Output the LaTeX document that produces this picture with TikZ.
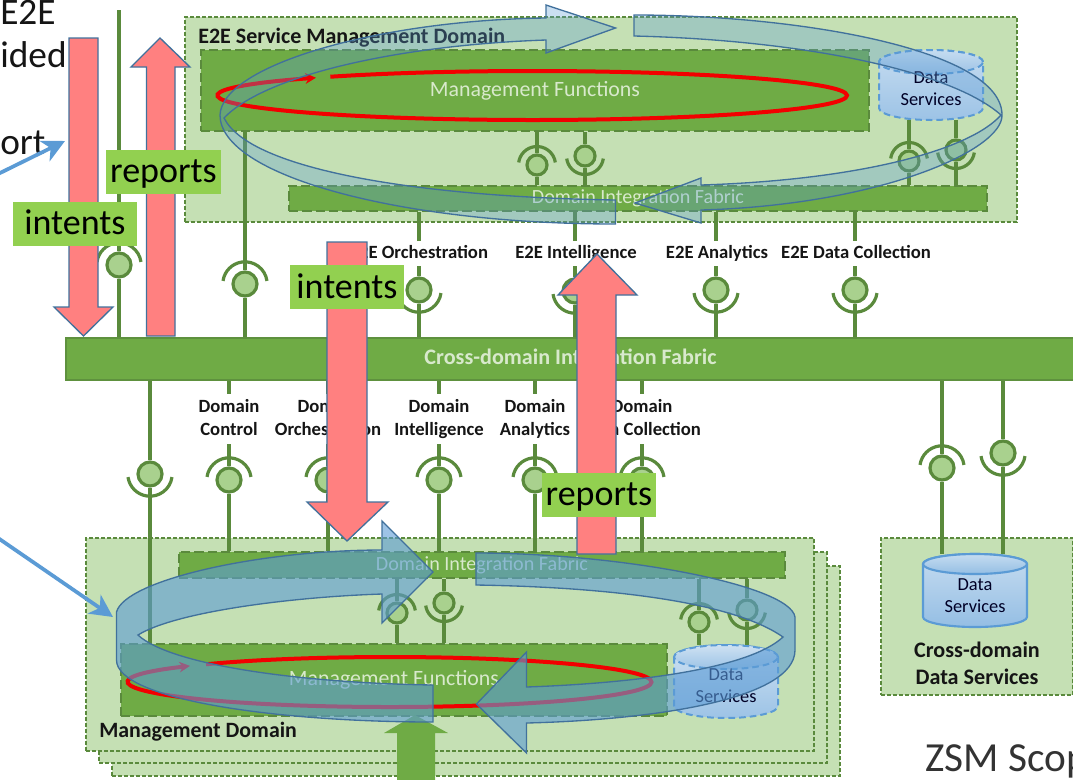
\documentclass[tikz,border=0pt]{standalone}
\usepackage{fontspec}
\setmainfont{Carlito}
\usetikzlibrary{arrows.meta}
\definecolor{dom}{HTML}{C5E0B4}
\definecolor{fab}{HTML}{6FAB45}
\definecolor{lnk}{HTML}{5A8A3C}
\definecolor{sockf}{HTML}{A9D18E}
\definecolor{lab}{HTML}{92D050}
\definecolor{pink}{HTML}{FF8080}
\definecolor{edgeb}{HTML}{41719C}
\definecolor{blu}{HTML}{5B9BD5}
\definecolor{pale}{HTML}{D8E9CC}
\definecolor{inkt}{HTML}{151515}
\tikzset{
  x=.75pt,y=.75pt,
  dombox/.style={rectangle,draw=lnk,line width=.8pt,dash pattern=on 3pt off 1.5pt,fill=dom,inner sep=0pt},
  fabricbox/.style={rectangle,draw=lnk,line width=1.5pt,dash pattern=on 7pt off 3pt,fill=fab,inner sep=0pt,text=pale},
  barbox/.style={rectangle,draw=lnk!80!fab,line width=.8pt,fill=fab,inner sep=0pt,text=pale},
  linkline/.style={draw=lnk,line width=2.4pt},
  sockbox/.style={circle,draw=lnk,line width=2.4pt,fill=sockf,inner sep=0pt},
  svc/.style={font=\fontsize{14}{17.2}\selectfont\bfseries,text=inkt,align=center,inner sep=0pt},
  dtext/.style={font=\fontsize{13.8}{16.5}\selectfont,align=center,inner sep=0pt,text=black!85!blue},
  tagbox/.style={rectangle,fill=lab,inner sep=0pt,text=black,font=\fontsize{27}{27}\selectfont,text height=25pt,text depth=8pt},
  bigarrow/.style={fill=pink,draw=edgeb,line width=1pt,line join=miter},
  bandT/.style={fill=blu,fill opacity=.32,draw=edgeb,line width=1pt,draw opacity=1},
  bandL/.style={fill=blu,fill opacity=.6,draw=edgeb,line width=1pt,draw opacity=1},
  cuttext/.style={anchor=base west,inner sep=0pt,font=\fontsize{28}{28}\selectfont,text=inkt},
  pointer/.style={draw=blu,line width=2.8pt,-{Stealth[length=17pt,width=17pt,inset=5pt]}},
  redloop/.style={draw=red!95!black,line width=3pt,-{Stealth[length=8pt,width=8pt]}},
}
\newcommand\sockU[4]{\node[sockbox,minimum size=2*#4*.75pt] (#1) at (#2,-#3) {};
  \draw[linkline] (#1.center) ++(8:#4*1.85) arc[start angle=8,end angle=172,radius=#4*1.85];}
\newcommand\sockD[4]{\node[sockbox,minimum size=2*#4*.75pt] (#1) at (#2,-#3) {};
  \draw[linkline] (#1.center) ++(-8:#4*1.85) arc[start angle=-8,end angle=-172,radius=#4*1.85];}
\newcommand\cylshape[7]{% x1 y1 x2 y2 e style topfill
  \path[#6] (#1,-#2-#5) -- (#1,-#4+#5) arc[start angle=180,end angle=360,x radius=(#3-#1)/2,y radius=#5]
     -- (#3,-#2-#5) arc[start angle=0,end angle=180,x radius=(#3-#1)/2,y radius=#5] -- cycle;
  \path[#6,fill=#7] ({(#1+#3)/2},-#2-#5) ellipse[x radius=(#3-#1)/2,y radius=#5];}
\newcommand\twoline[2]{\strut #1\\\strut #2}
\begin{document}
\begin{tikzpicture}
\useasboundingbox (0,0) rectangle (1073,-779);
\clip (0,0) rectangle (1073,-779);

% domains
\node[dombox,minimum width=832*.75pt,minimum height=205*.75pt] (e2edom) at (601,-119.5) {};
\node[dombox,minimum width=728*.75pt,minimum height=210*.75pt] (md3) at (476,-671) {};
\node[dombox,minimum width=728*.75pt,minimum height=211*.75pt] (md2) at (463,-657.5) {};
\node[dombox,minimum width=728*.75pt,minimum height=213*.75pt] (md1) at (450,-644.5) {};
\node[dombox,minimum width=192*.75pt,minimum height=157*.75pt] (cdom) at (977,-616.5) {};

% fabrics and functions
\node[barbox,minimum width=1009*.75pt,minimum height=42*.75pt,font=\fontsize{16.6}{15}\selectfont\bfseries] (cross) at (570.5,-359) {Cross-domain Integration Fabric};
\node[fabricbox,minimum width=668*.75pt,minimum height=81*.75pt,font=\fontsize{16.4}{16}\selectfont] (mgmtT) at (535,-90.5) {Management Functions};
\node[fabricbox,minimum width=698*.75pt,minimum height=25*.75pt,font=\fontsize{15.1}{14}\selectfont] (fabT) at (638,-198) {Domain Integration Fabric};
\node[fabricbox,minimum width=606*.75pt,minimum height=26*.75pt,font=\fontsize{15.1}{14}\selectfont] (fabL) at (482,-565) {Domain Integration Fabric};
\node[fabricbox,minimum width=546*.75pt,minimum height=72*.75pt,font=\fontsize{16.4}{16}\selectfont] (mgmtL) at (394,-680) {Management Functions};

% data services
\cylshape{879}{50}{983}{120}{12}{draw=blu,line width=1.5pt,dash pattern=on 5pt off 3pt,top color=blu!35!white,bottom color=blu!60!white}{blu!25!white}
\node[minimum width=104*.75pt,minimum height=70*.75pt,inner sep=0pt] (dsT) at (931,-85) {};
\node[dtext] (dsTt) at (931,-88.5) {Data\\Services};
\cylshape{674}{645}{778}{718}{12}{draw=blu,line width=1.5pt,dash pattern=on 5pt off 3pt,top color=blu!30!white,bottom color=blu!60!white}{blu!22!white}
\node[minimum width=104*.75pt,minimum height=73*.75pt,inner sep=0pt] (dsL) at (726,-681.5) {};
\node[dtext] (dsLt) at (726,-685.5) {Data\\Services};
\cylshape{923}{554}{1027}{627}{10}{draw=blu,line width=1.6pt,top color=blu!35!white,bottom color=blu!65!white}{blu!18!white}
\node[minimum width=104*.75pt,minimum height=73*.75pt,inner sep=0pt] (dsC) at (975,-590.5) {};
\node[dtext] (dsCt) at (975,-595.5) {Data\\Services};

% titles
\node[anchor=base west,inner sep=0pt,font=\fontsize{16.5}{15}\selectfont\bfseries,text=inkt] (ttlE) at (198,-43) {E2E Service Management Domain};
\node[anchor=base west,inner sep=0pt,font=\fontsize{16.4}{15}\selectfont\bfseries,text=inkt] (ttlM) at (99,-737) {Management Domain};
\node[align=center,inner sep=0pt,font=\fontsize{16.6}{20}\selectfont\bfseries,text=inkt] (ttlC) at (977,-663) {Cross-domain\\Data Services};

% service labels
\node[svc,minimum height=24*.75pt] (lE1) at (419,-253.5) {\strut E2E Orchestration};
\node[svc,minimum height=24*.75pt] (lE2) at (576,-253.5) {\strut E2E Intelligence};
\node[svc,minimum height=24*.75pt] (lE3) at (717,-253.5) {\strut E2E Analytics};
\node[svc,minimum height=24*.75pt] (lE4) at (856,-253.5) {\strut E2E Data Collection};
\node[svc,minimum height=50*.75pt] (lD1) at (229,-419) {\twoline{Domain}{Control}};
\node[svc,minimum height=50*.75pt] (lD2) at (328,-419) {\twoline{Domain}{Orchestration}};
\node[svc,minimum height=50*.75pt] (lD3) at (439,-419) {\twoline{Domain}{Intelligence}};
\node[svc,minimum height=50*.75pt] (lD4) at (535,-419) {\twoline{Domain}{Analytics}};
\node[svc,minimum height=50*.75pt] (lD5) at (642,-419) {\twoline{Domain}{Data Collection}};

% sockets
\sockU{sA}{119}{265}{12}
\sockU{sB}{245}{284}{12}
\sockD{sE1}{419}{290}{12}
\sockD{sE2}{575}{291}{12}
\sockD{sE3}{716}{290}{12}
\sockD{sE4}{855}{290}{12}
\sockU{sT1}{537}{165}{10}
\sockD{sT2}{585}{156}{10}
\sockU{sT3}{909}{161}{10}
\sockD{sT4}{956}{150}{10}
\sockD{sC}{150}{474}{12}
\sockU{sD1}{229}{480}{12}
\sockU{sD2}{328}{480}{12}
\sockU{sD3}{439}{480}{12}
\sockU{sD4}{535}{480}{12}
\sockU{sD5}{642}{480}{12}
\sockU{sX1}{942}{468}{12}
\sockD{sX2}{1003}{453}{12}
\sockU{sL1}{397}{613}{10}
\sockD{sL2}{444}{603}{10}
\sockU{sL3}{699}{622}{10}
\sockD{sL4}{747}{610}{10}
\coordinate (topfree) at (119,-10);

% connectors
\draw[linkline] (sA) -- (topfree);
\draw[linkline] (sA) -- (sA |- cross.north);
\draw[linkline] (sB) -- (sB |- mgmtT.south);
\draw[linkline] (sB) -- (sB |- cross.north);
\foreach \s/\l in {sE1/lE1,sE2/lE2,sE3/lE3,sE4/lE4}{
  \draw[linkline] (\s) -- (\s |- cross.north);
  \draw[linkline] (\s) -- (\s |- \l.south);
  \draw[linkline] (\s |- \l.north) -- (\s |- fabT.south);
}
\foreach \s in {sT1,sT2}{
  \draw[linkline] (\s) -- (\s |- mgmtT.south);
  \draw[linkline] (\s) -- (\s |- fabT.north);
}
\foreach \s in {sT3,sT4}{
  \draw[linkline] (\s) -- (\s |- dsT.south);
  \draw[linkline] (\s) -- (\s |- fabT.north);
}
\draw[linkline] (sC) -- (sC |- cross.south);
\draw[linkline] (sC) -- (sC |- mgmtL.north);
\foreach \s/\l in {sD1/lD1,sD2/lD2,sD3/lD3,sD4/lD4,sD5/lD5}{
  \draw[linkline] (\s) -- (\s |- fabL.north);
  \draw[linkline] (\s) -- (\s |- \l.south);
  \draw[linkline] (\s |- \l.north) -- (\s |- cross.south);
}
\foreach \s in {sX1,sX2}{
  \draw[linkline] (\s) -- (\s |- cross.south);
  \draw[linkline] (\s) -- (\s |- dsC.north);
}
\foreach \s in {sL1,sL2}{
  \draw[linkline] (\s) -- (\s |- fabL.south);
  \draw[linkline] (\s) -- (\s |- mgmtL.north);
}
\foreach \s in {sL3,sL4}{
  \draw[linkline] (\s) -- (\s |- fabL.south);
  \draw[linkline] (\s) -- (\s |- dsL.north);
}

% green arrow at the bottom
\path[fill=fab] (397,-790) -- (397,-733) -- (384,-733) -- (415,-715) -- (448,-733) -- (435,-733) -- (435,-790) -- cycle;

% red loops
\path[redloop] (532.5,-95.5) ++(130:314.5 and 24.5) arc[start angle=130,end angle=-226.5,x radius=314.5,y radius=24.5];
\path[redloop] (390,-682) ++(134.7:261.5 and 25) arc[start angle=134.7,end angle=-220.1,x radius=261.5,y radius=25];

% bands, upper
\path[bandT] (615.5,-200) -- (615.5,-224) .. controls (398,-224) and (220,-175) .. (220,-115)
  .. controls (222,-65) and (380,-20) .. (546,-18) -- (546,-5) -- (615.5,-28) -- (546,-53) -- (546,-40)
  .. controls (400,-45) and (265,-75) .. (224,-118)
  .. controls (250,-170) and (420,-197) .. (615.5,-200) -- cycle;
\path[bandT] (634,-15) .. controls (800,-15) and (1002,-50) .. (1002,-115)
  .. controls (1003,-150) and (880,-205) .. (701,-210) -- (701,-223) -- (635,-203) -- (701,-178) -- (701,-185)
  .. controls (860,-180) and (970,-150) .. (1001,-115)
  .. controls (950,-70) and (800,-40) .. (634,-36) -- cycle;
% bands, lower
\path[bandL] (433,-685) -- (433,-722) .. controls (280,-722) and (116.5,-700) .. (116.5,-660) -- (116.5,-612)
  .. controls (125,-580) and (260,-550) .. (382,-550) -- (382,-521) -- (433,-572) -- (382,-623) -- (382,-594)
  .. controls (290,-597) and (175,-612) .. (138,-635)
  .. controls (170,-665) and (300,-683) .. (433,-685) -- cycle;
\path[bandL] (476,-553) -- (476,-585) .. controls (600,-587) and (730,-600) .. (783,-637)
  .. controls (750,-668) and (640,-683) .. (526.5,-687) -- (526.5,-652) -- (476.5,-704) -- (526.5,-753) -- (526.5,-723)
  .. controls (650,-720) and (795,-700) .. (795,-650) -- (795,-617)
  .. controls (790,-585) and (620,-553) .. (476,-553) -- cycle;

% pink arrows
\path[bigarrow] (69,-38) -- (98,-38) -- (98,-307) -- (113,-307) -- (83.5,-336) -- (54,-307) -- (69,-307) -- cycle;
\path[bigarrow] (146.5,-336) -- (146.5,-67) -- (131,-67) -- (160,-38) -- (190,-67) -- (175,-67) -- (175,-336) -- cycle;
\path[bigarrow] (327,-242) -- (367,-242) -- (367,-502) -- (388,-502) -- (347,-541) -- (307,-502) -- (327,-502) -- cycle;
\path[bigarrow] (577,-554) -- (577,-295) -- (558,-295) -- (597,-254) -- (637,-295) -- (616,-295) -- (616,-554) -- cycle;

% tags
\node[tagbox,minimum width=115*.75pt] (tagR1) at (163.5,-171.5) {reports};
\node[tagbox,minimum width=124*.75pt] (tagI1) at (75,-223.5) {intents};
\node[tagbox,minimum width=114*.75pt] (tagI2) at (347,-287) {intents};
\node[tagbox,minimum width=114*.75pt] (tagR2) at (599,-494.5) {reports};

% cut-off text
\node[cuttext] (c1) at (0,-24) {E2E};
\node[cuttext] (c2) at (0,-67) {ided};
\node[cuttext] (c3) at (0,-154) {ort};
\node[cuttext,text=black!80,font=\fontsize{31}{31}\selectfont] (c4) at (925,-771) {ZSM Scop};
\coordinate (p1a) at (-2,-174);
\coordinate (p1b) at (65,-141);
\coordinate (p2a) at (-2,-538);
\coordinate (p2b) at (113,-617);
\draw[pointer] (p1a) -- (p1b);
\draw[pointer] (p2a) -- (p2b);
\end{tikzpicture}
\end{document}
